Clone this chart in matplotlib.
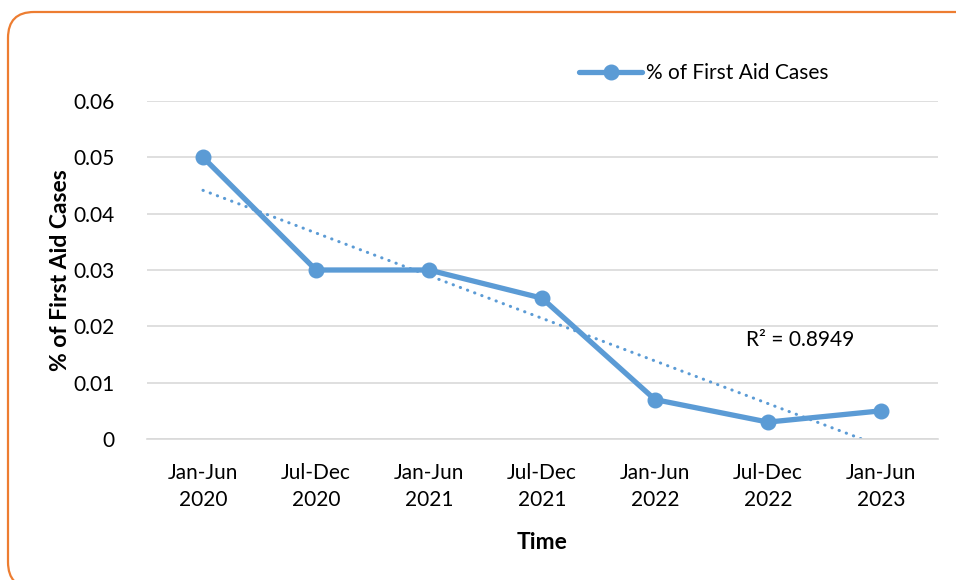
import numpy as np
import matplotlib
matplotlib.use("Agg")
import matplotlib.pyplot as plt
from matplotlib.patches import FancyBboxPatch
from matplotlib.transforms import IdentityTransform

plt.rcParams['font.family'] = ['Lato', 'DejaVu Sans']

periods = ["Jan-Jun\n2020", "Jul-Dec\n2020", "Jan-Jun\n2021", "Jul-Dec\n2021",
           "Jan-Jun\n2022", "Jul-Dec\n2022", "Jan-Jun\n2023"]
first_aid = [0.05, 0.03, 0.03, 0.025, 0.007, 0.003, 0.005]
yticks = [0, 0.01, 0.02, 0.03, 0.04, 0.05, 0.06]
ytick_labels = ["0", "0.01", "0.02", "0.03", "0.04", "0.05", "0.06"]

blue = "#5B9BD5"
grid = "#D9D9D9"

W, H = 956, 580
fig = plt.figure(figsize=(W / 100, H / 100), dpi=100)

# rounded orange border, in pixels (runs off the right and bottom edges)
box = FancyBboxPatch((8, -8), 974, H - 12 + 8,
                     boxstyle="round,pad=0,rounding_size=26",
                     transform=IdentityTransform(), facecolor="none",
                     edgecolor="#ED7D31", linewidth=1.6, zorder=-1)
fig.patches.append(box)

ax = fig.add_axes([146.5 / W, (H - 439) / H, (937.5 - 146.5) / W, (439 - 101) / H])
ax.set_facecolor("none")

x = np.arange(len(first_aid))
ax.plot(x, first_aid, color=blue, lw=3.8, marker="o", ms=10.5,
        solid_capstyle="round", solid_joinstyle="round",
        label="% of First Aid Cases", zorder=3)

# linear trendline
coef = np.polyfit(x, first_aid, 1)
trend = np.polyval(coef, x)
resid = np.array(first_aid) - trend
r2 = 1 - np.sum(resid ** 2) / np.sum((np.array(first_aid) - np.mean(first_aid)) ** 2)
ax.plot(x, trend, color=blue, lw=2.2, linestyle=(0, (0.1, 2.4)),
        dash_capstyle="round", zorder=2)
ax.text(5.28, 0.0175, "R\u00b2 = %.4f" % r2, fontsize=15, ha="center", va="center")

ax.set_xlim(-0.5, len(first_aid) - 0.5)
ax.set_ylim(0, 0.06)
ax.set_yticks(yticks)
ax.set_yticklabels(ytick_labels)
ax.set_xticks(x)
ax.set_xticklabels(periods, linespacing=1.45)
ax.tick_params(axis="both", length=0, labelsize=15, colors="black")
ax.tick_params(axis="y", pad=23)
ax.tick_params(axis="x", pad=17)
ax.grid(axis="y", color=grid, lw=1.2)
ax.set_axisbelow(True)
for s in ["top", "right", "left"]:
    ax.spines[s].set_visible(False)
ax.spines["bottom"].set_color(grid)
ax.spines["bottom"].set_linewidth(1.2)

ax.set_ylabel("% of First Aid Cases", fontsize=16.5, fontweight="bold", labelpad=2)
ax.set_xlabel("Time", fontsize=16.5, fontweight="bold", labelpad=16)

ax.legend(loc="center", bbox_to_anchor=(704 / W, (H - 73) / H),
          bbox_transform=fig.transFigure, frameon=False, fontsize=15,
          handlelength=3.0, handletextpad=0.2)

fig.savefig("out.png", dpi=100)
